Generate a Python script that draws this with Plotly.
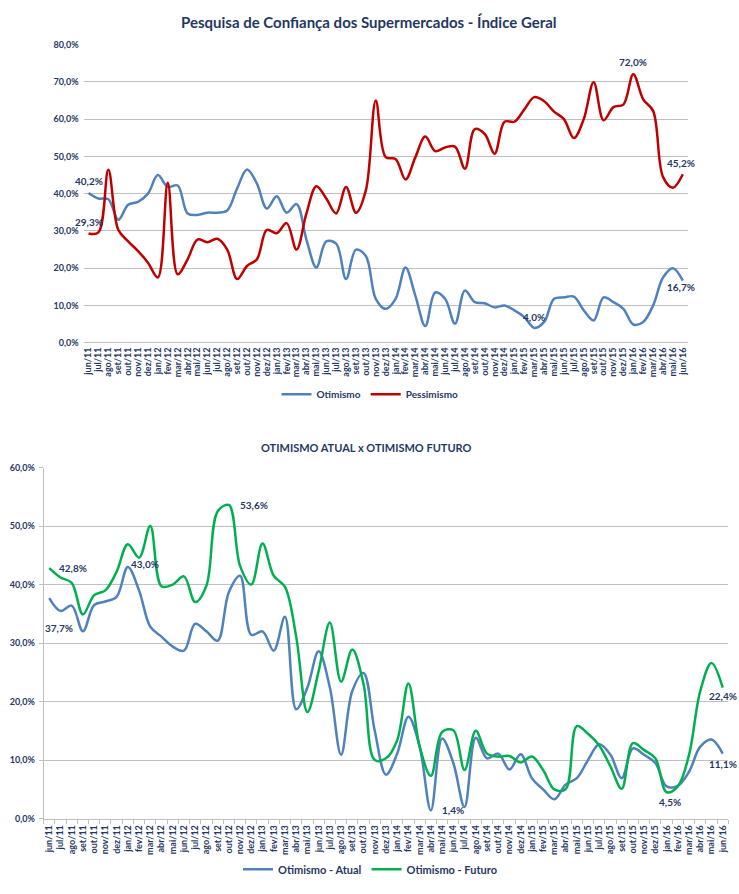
import plotly.graph_objects as go

months = ["jun/11","jul/11","ago/11","set/11","out/11","nov/11","dez/11",
          "jan/12","fev/12","mar/12","abr/12","mai/12","jun/12","jul/12","ago/12","set/12","out/12","nov/12","dez/12",
          "jan/13","fev/13","mar/13","abr/13","mai/13","jun/13","jul/13","ago/13","set/13","out/13","nov/13","dez/13",
          "jan/14","fev/14","mar/14","abr/14","mai/14","jun/14","jul/14","ago/14","set/14","out/14","nov/14","dez/14",
          "jan/15","fev/15","mar/15","abr/15","mai/15","jun/15","jul/15","ago/15","set/15","out/15","nov/15","dez/15",
          "jan/16","fev/16","mar/16","abr/16","mai/16","jun/16"]

otimismo = [40.2, 38.7, 38.5, 33.0, 37.0, 37.8, 40.0, 45.0, 41.8, 42.2, 34.7, 34.3, 34.9, 34.9, 35.5,
            41.4, 46.5, 42.7, 36.0, 39.3, 34.9, 37.2, 27.7, 20.2, 27.2, 26.6, 17.1, 25.0, 23.3, 11.8,
            9.1, 11.8, 20.2, 12.6, 4.5, 13.5, 11.8, 5.1, 14.0, 10.9, 10.6, 9.5, 10.0, 8.7, 6.9,
            4.0, 5.6, 11.8, 12.2, 12.4, 8.7, 6.0, 12.2, 10.9, 9.1, 4.9, 5.6, 10.0, 17.5, 20.0, 16.7]

pessimismo = [29.3, 29.6, 46.4, 30.3, 27.2, 24.6, 21.5, 17.5, 42.9, 18.4, 22.4, 27.7, 27.0, 27.9, 25.0,
              17.1, 20.6, 22.4, 30.3, 29.4, 32.1, 25.0, 34.7, 42.0, 38.7, 34.7, 41.8, 34.9, 40.9, 65.0,
              49.8, 49.3, 43.8, 49.8, 55.3, 51.4, 52.4, 52.6, 46.7, 57.3, 56.0, 50.7, 59.3, 59.3, 62.6,
              65.9, 64.8, 62.0, 60.0, 54.9, 60.0, 69.9, 59.7, 63.2, 63.9, 72.0, 65.3, 62.2, 44.5, 41.6, 45.2]

atual = [37.7, 35.5, 36.4, 32.0, 36.5, 37.1, 37.9, 43.0, 39.0, 32.8, 31.1, 29.4, 28.7, 33.3, 32.0,
         30.4, 38.7, 41.5, 31.4, 32.0, 28.7, 34.5, 18.7, 22.4, 28.6, 22.4, 10.9, 21.8, 24.9, 15.0,
         7.5, 11.1, 17.4, 12.3, 1.4, 13.7, 9.5, 2.0, 13.8, 10.3, 11.1, 8.4, 11.0, 6.9, 5.0,
         3.3, 5.8, 6.9, 10.0, 12.7, 10.9, 6.9, 12.0, 10.9, 9.5, 5.5, 5.6, 8.0, 12.3, 13.5, 11.1]

futuro = [42.8, 41.2, 40.3, 34.9, 38.2, 39.0, 42.2, 46.9, 44.6, 50.0, 39.7, 40.0, 41.4, 37.0, 39.8,
          52.5, 53.6, 43.2, 40.0, 47.0, 41.5, 39.6, 31.1, 18.2, 25.2, 33.5, 23.4, 28.9, 23.0, 10.0,
          10.3, 13.4, 23.1, 12.3, 7.3, 14.8, 15.1, 8.3, 15.0, 11.1, 10.6, 10.7, 9.6, 10.6, 8.3,
          5.0, 5.0, 15.8, 14.5, 12.5, 8.9, 5.1, 12.9, 11.7, 10.3, 4.5, 5.5, 10.9, 21.8, 26.6, 22.4]

top_title = "Pesquisa de Confiança dos Supermercados - Índice Geral"
bottom_title = "OTIMISMO ATUAL x OTIMISMO FUTURO"

NAVY = "#1F3864"
BLUE = "#4F81BD"
RED = "#C00000"
GREEN = "#00B050"
GRID = "#BFBFBF"
FONT = "Lato"

W, H = 739, 894

fig = go.Figure()

fig.add_trace(go.Scatter(x=months, y=otimismo, name="Otimismo", mode="lines",
                         line=dict(color=BLUE, width=2.5, shape="spline", smoothing=1.0),
                         xaxis="x", yaxis="y", legend="legend"))
fig.add_trace(go.Scatter(x=months, y=pessimismo, name="Pessimismo", mode="lines",
                         line=dict(color=RED, width=2.5, shape="spline", smoothing=1.0),
                         xaxis="x", yaxis="y", legend="legend"))
fig.add_trace(go.Scatter(x=months, y=atual, name="Otimismo - Atual", mode="lines",
                         line=dict(color=BLUE, width=2.5, shape="spline", smoothing=1.0),
                         xaxis="x2", yaxis="y2", legend="legend2"))
fig.add_trace(go.Scatter(x=months, y=futuro, name="Otimismo - Futuro", mode="lines",
                         line=dict(color=GREEN, width=2.5, shape="spline", smoothing=1.0),
                         xaxis="x2", yaxis="y2", legend="legend2"))

def fmt(v):
    return f"{v:.1f}".replace(".", ",") + "%"

# data labels: (series, index, axis suffix, xshift, yshift, xanchor)
labels = [
    (otimismo, 0, "", 0, 12, "center"),
    (pessimismo, 0, "", 0, 12, "center"),
    (pessimismo, 55, "", 0, 12, "center"),
    (pessimismo, 60, "", -2, 11, "center"),
    (otimismo, 45, "", 0, 11, "center"),
    (otimismo, 60, "", -2, -6, "center"),
    (futuro, 0, "2", 8, 0, "left"),
    (atual, 0, "2", -6, -30, "left"),
    (atual, 7, "2", 1, 3, "left"),
    (futuro, 16, "2", 9, 0, "left"),
    (atual, 34, "2", 9, 0, "left"),
    (futuro, 55, "2", 3, -10, "center"),
    (futuro, 60, "2", 0, -8, "center"),
    (atual, 60, "2", 0, -10, "center"),
]
for ser, i, ax, xs, ys, xa in labels:
    fig.add_annotation(x=months[i], y=ser[i], xref="x" + ax, yref="y" + ax,
                       text=fmt(ser[i]), showarrow=False, xshift=xs, yshift=ys,
                       xanchor=xa, yanchor="middle",
                       font=dict(family=FONT, size=10, color=NAVY, weight="bold"))

fig.add_annotation(x=368 / W, y=1 - 16 / H, xref="paper", yref="paper", text=top_title,
                   showarrow=False, xanchor="center", yanchor="middle",
                   font=dict(family=FONT, size=15, color=NAVY, weight="bold"))
fig.add_annotation(x=366 / W, y=1 - 447 / H, xref="paper", yref="paper", text=bottom_title,
                   showarrow=False, xanchor="center", yanchor="middle",
                   font=dict(family=FONT, size=11, color=NAVY, weight="bold"))

tickfont = dict(family=FONT, size=9, color=NAVY, weight="bold")

fig.update_layout(
    width=W, height=H, margin=dict(l=0, r=0, t=0, b=0),
    paper_bgcolor="white", plot_bgcolor="white",
    separators=",.",
    showlegend=True,
    xaxis=dict(domain=[82.7 / W, 687.7 / W], type="category", categoryorder="array",
               categoryarray=months, range=[-0.5, 60.5], tickangle=-90, tickfont=tickfont,
               tickmode="array", tickvals=months, ticktext=months,
               showgrid=False, showline=False, ticks="", anchor="y", ticklabelstandoff=2),
    yaxis=dict(domain=[1 - 341 / H, 1 - 39 / H], range=[0, 80], dtick=10, tickformat=".1f",
               ticksuffix="%", tickfont=tickfont, showgrid=True, gridcolor=GRID, gridwidth=1,
               zeroline=True, zerolinecolor=GRID, zerolinewidth=1, showline=False, anchor="x",
               ticklabelstandoff=4),
    xaxis2=dict(domain=[42.7 / W, 728.3 / W], type="category", categoryorder="array",
                categoryarray=months, range=[-0.5, 60.5], tickangle=-90, tickfont=tickfont,
                tickmode="array", tickvals=months, ticktext=months,
                showgrid=False, showline=True, linecolor=GRID, linewidth=1,
                ticks="outside", tickson="boundaries", ticklen=4, tickcolor=GRID,
                anchor="y2", ticklabelstandoff=2),
    yaxis2=dict(domain=[1 - 822.7 / H, 1 - 467.3 / H], range=[0, 60], dtick=10, tickformat=".1f",
                ticksuffix="%", tickfont=tickfont, showgrid=True, gridcolor=GRID, gridwidth=1,
                zeroline=False, showline=True, linecolor=GRID, linewidth=1, anchor="x2",
                ticks="outside", ticklen=4, tickcolor=GRID, ticklabelstandoff=2),
    legend=dict(orientation="h", x=0.5, y=1 - 393 / H, xanchor="center", yanchor="middle",
                font=dict(family=FONT, size=10, color=NAVY, weight="bold"),
                itemwidth=30, bgcolor="rgba(0,0,0,0)"),
    legend2=dict(orientation="h", x=0.5, y=1 - 874 / H, xanchor="center", yanchor="middle",
                 font=dict(family=FONT, size=11, color=NAVY, weight="bold"),
                 itemwidth=30, bgcolor="rgba(0,0,0,0)"),
)

fig.write_html("out.html", config={"displayModeBar": False},
               post_script="document.body.style.margin='0';document.body.style.padding='0';"
                           "document.body.style.overflow='hidden';")
